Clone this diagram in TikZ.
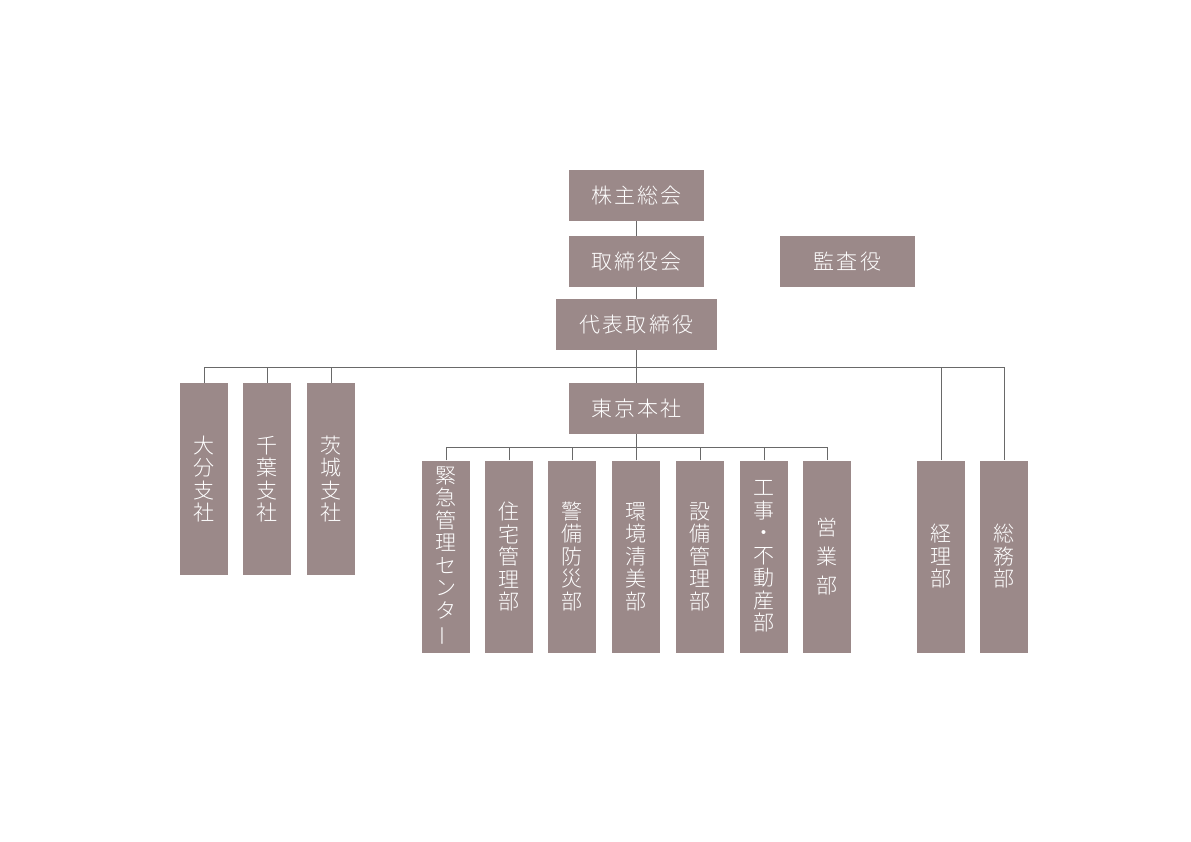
\documentclass[tikz,border=0pt]{standalone}
\usepackage{fontspec}
\setmainfont{Noto Sans CJK JP}[LetterSpace=10, UprightFont=* Light]
\definecolor{boxfill}{RGB}{155,137,137}
\definecolor{linkgray}{RGB}{105,105,105}
\tikzset{
  post/.style={fill=boxfill, text=white, inner sep=0pt, font=\fontsize{21}{22.5}\selectfont},
  widepost/.style={post, minimum width=135pt, minimum height=51pt},
  tallpost/.style={post, align=center, minimum width=48pt, minimum height=192pt},
  link/.style={draw=linkgray, line width=1pt}
}
\begin{document}
\begin{tikzpicture}[x=1pt,y=-1pt]
\useasboundingbox (0,0) rectangle (1191,842);

% NODES %%%%%%%%%%%%%%%%%%%%%%%%%%%%%%%%%%%%%%%%%%%%%%%%%%%%%%%%%%%%%%%%%%

\node[widepost] (kabu) at (636.5,195.5) {株主総会};
\node[widepost] (board) at (636.5,261.5) {取締役会};
\node[widepost] (audit) at (847.5,261.5) {監査役};
\node[widepost, minimum width=161pt] (rep) at (636.5,324.5) {代表取締役};
\node[widepost] (tokyo) at (636.5,408.5) {東京本社};

\node[tallpost] (oita) at (204,479) {大\\分\\支\\社};
\node[tallpost] (chiba) at (267,479) {千\\葉\\支\\社};
\node[tallpost] (ibaraki) at (331,479) {茨\\城\\支\\社};

\node[tallpost] (kinkyu) at (446,556.5) {緊\\急\\管\\理\\セ\\ン\\タ\\\rotatebox[origin=c]{90}{ー}};
\node[tallpost] (jutaku) at (509,556.5) {住\\宅\\管\\理\\部};
\node[tallpost] (keibi) at (572,556.5) {警\\備\\防\\災\\部};
\node[tallpost] (kankyo) at (636,556.5) {環\\境\\清\\美\\部};
\node[tallpost] (setsubi) at (700,556.5) {設\\備\\管\\理\\部};
\node[tallpost] (koji) at (764,556.5) {工\\事\\・\\不\\動\\産\\部};
\node[tallpost, font=\fontsize{21}{29}\selectfont] (eigyo) at (827,556.5) {営\\業\\部};

\node[tallpost] (keiri) at (941,556.5) {経\\理\\部};
\node[tallpost] (somu) at (1004,556.5) {総\\務\\部};

\coordinate (bus) at (636.5,367);
\coordinate (subbus) at (636.5,447);

% LINKS %%%%%%%%%%%%%%%%%%%%%%%%%%%%%%%%%%%%%%%%%%%%%%%%%%%%%%%%%%%%%%%%%%

\draw[link] (kabu) -- (board);
\draw[link] (board) -- (rep);
\draw[link] (rep) -- (tokyo);

\draw[link] (oita.north) -- (oita.north |- bus) -- (somu.north |- bus) -- (somu.north);
\foreach \n in {chiba, ibaraki, keiri}
  \draw[link] (\n.north) -- (\n.north |- bus);

\draw[link] (kinkyu.north) -- (kinkyu.north |- subbus) -- (eigyo.north |- subbus) -- (eigyo.north);
\foreach \n in {jutaku, keibi, kankyo, setsubi, koji}
  \draw[link] (\n.north) -- (\n.north |- subbus);
\draw[link] (tokyo) -- (subbus);

\end{tikzpicture}
\end{document}
